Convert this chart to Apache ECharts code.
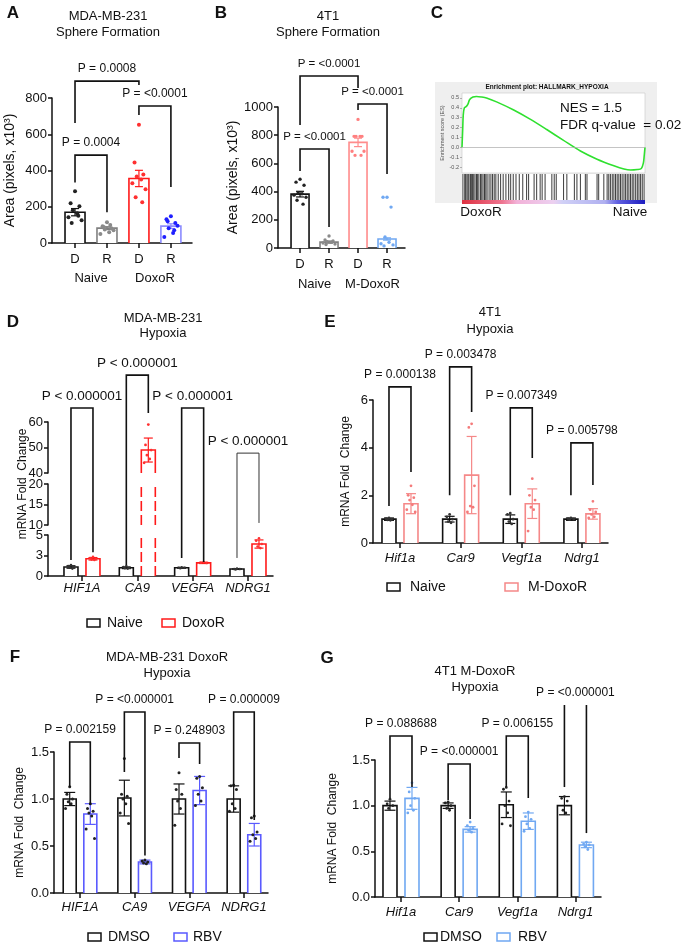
<!DOCTYPE html>
<html>
<head>
<meta charset="utf-8">
<script src="https://cdn.jsdelivr.net/npm/echarts@6/dist/echarts.min.js"></script>
<style>html,body{margin:0;background:#fff}#chart{width:687px;height:944px}</style>
</head>
<body>
<div id="chart"></div>
<script>
var FONT = '"Liberation Sans", Arial, sans-serif';
var INK = '#111';

// ---- A: MDA-MB-231 sphere formation
var aTicks = ['D', 'R', 'D', 'R'];
var aGroups = ['Naive', 'DoxoR'];
var aMeans = [170, 82, 356, 93];
var aSem = [20, 8, 45, 13];
var aDots = [
  [285, 219, 203, 181, 164, 142, 126, 110, 150],
  [115, 93, 82, 75, 60, 49, 70, 88, 100],
  [653, 444, 378, 367, 350, 329, 296, 252, 225],
  [148, 131, 110, 82, 55, 33, 95, 120, 70]
];

// ---- B: 4T1 sphere formation
var bTicks = ['D', 'R', 'D', 'R'];
var bGroups = ['Naive', 'M-DoxoR'];
var bMeans = [382, 42, 749, 64];
var bSem = [20, 8, 30, 8];
var bDots = [
  [488, 467, 445, 389, 385, 375, 360, 339, 311],
  [85, 57, 50, 45, 40, 35, 28, 25],
  [912, 792, 792, 792, 792, 686, 686, 657, 657],
  [360, 360, 290, 78, 40, 30, 22, 15]
];

// ---- C: GSEA enrichment plot (rank in % of list)
var esRank = [0, 0.4, 0.7, 1.3, 2.4, 3.3, 4.2, 6.0, 7.9, 10.6, 13.4, 18.9, 28.0, 37.2, 46.3, 55.5, 64.7, 73.8, 83.0, 88.5, 92.1, 95.8, 98.0, 99.1, 99.6, 100];
var esScore = [0, 0.19, 0.33, 0.40, 0.415, 0.44, 0.485, 0.51, 0.515, 0.51, 0.50, 0.46, 0.38, 0.285, 0.18, 0.07, -0.037, -0.12, -0.187, -0.22, -0.23, -0.225, -0.214, -0.16, -0.08, 0];
var esTicks = [-0.2, -0.1, 0, 0.1, 0.2, 0.3, 0.4, 0.5];
var hitRanks = [0.5, 1.5, 2.0, 2.7, 3.3, 3.8, 4.6, 5.1, 5.7, 6.4, 7.1, 7.9, 8.4, 9.2, 10.1, 10.8, 11.5, 12.3, 13.0, 13.7, 14.8, 15.8, 16.7, 17.6, 18.5, 19.8, 21.1, 22.5, 24.0, 25.5, 26.6, 28.0, 29.5, 31.3, 33.2, 35.3, 36.4, 39.4, 40.8, 42.7, 43.8, 45.4, 49.1, 50.4, 51.5, 55.5, 57.3, 61.4, 62.8, 64.7, 67.4, 68.3, 73.8, 74.7, 77.5, 79.3, 80.2, 81.1, 82.1, 83.0, 83.9, 84.8, 85.7, 86.6, 87.5, 88.5, 89.4, 90.3, 91.2, 92.1, 93.0, 93.9, 94.9, 95.8, 96.7, 97.6, 98.5, 99.5];

// ---- D: MDA-MB-231 hypoxia (broken axis)
var dCats = ['HIF1A', 'CA9', 'VEGFA', 'NDRG1'];
var dNaive = [1.1, 1.0, 1.0, 0.85];
var dNaiveErr = [0.15, 0.1, 0.05, 0.05];
var dNaiveDots = [[1.35, 1.2, 1.1, 1.0, 0.9], [1.2, 1.1, 1.0, 0.95, 0.9], [1.05, 1.0, 1.0, 0.95], [0.9, 0.85, 0.85, 0.8]];
var dDoxo = [2.1, 49, 1.6, 3.9];
var dDoxoErr = [0.15, 4.7, 0.08, 0.5];
var dDoxoDots = [[2.35, 2.2, 2.1, 2.0, 1.95], [59, 51, 49, 47, 45.5, 44], [1.7, 1.62, 1.58], [4.6, 4.3, 3.9, 3.6, 3.4]];

// ---- E: 4T1 hypoxia
var eCats = ['Hif1a', 'Car9', 'Vegf1a', 'Ndrg1'];
var eNaive = [1.0, 1.0, 1.0, 1.0];
var eNaiveErr = [0.05, 0.12, 0.18, 0.05];
var eNaiveDots = [[1.05, 1.02, 1.0, 0.97, 0.95], [1.2, 1.1, 1.0, 0.9, 0.85], [1.25, 1.2, 1.0, 0.9, 0.8], [1.05, 1.02, 1.0, 0.98]];
var eMDoxo = [1.65, 2.85, 1.65, 1.22];
var eMDoxoErr = [0.42, 1.62, 0.62, 0.22];
var eMDoxoDots = [[2.4, 2.0, 1.9, 1.8, 1.6, 1.4, 1.3], [5.0, 4.85, 2.4, 1.55, 1.5, 1.3], [2.7, 2.0, 1.8, 1.5, 1.4, 0.5], [1.75, 1.4, 1.3, 1.2, 1.1, 1.05]];

// ---- F: MDA-MB-231 DoxoR hypoxia
var fCats = ['HIF1A', 'CA9', 'VEGFA', 'NDRG1'];
var fDmso = [1.0, 1.01, 1.0, 1.0];
var fDmsoErr = [0.07, 0.19, 0.16, 0.14];
var fDmsoDots = [[1.13, 1.05, 1.0, 0.97, 0.95, 0.9], [1.43, 1.05, 1.03, 1.0, 0.95, 0.85, 0.74], [1.28, 1.1, 1.05, 0.98, 0.9, 0.72], [1.15, 1.14, 1.1, 0.95, 0.9, 0.87]];
var fRbv = [0.84, 0.33, 1.09, 0.62];
var fRbvErr = [0.11, 0.02, 0.15, 0.12];
var fRbvDots = [[0.95, 0.9, 0.87, 0.85, 0.82, 0.68, 0.58], [0.35, 0.34, 0.33, 0.32, 0.31], [1.24, 1.22, 1.12, 1.05, 0.98, 0.93], [0.82, 0.8, 0.65, 0.62, 0.58, 0.55]];

// ---- G: 4T1 M-DoxoR hypoxia
var gCats = ['Hif1a', 'Car9', 'Vegf1a', 'Ndrg1'];
var gDmso = [1.0, 1.0, 1.01, 1.0];
var gDmsoErr = [0.05, 0.03, 0.14, 0.1];
var gDmsoDots = [[1.07, 1.02, 1.0, 0.97], [1.04, 1.03, 1.0, 0.97, 0.95], [1.2, 1.18, 1.05, 1.0, 0.92, 0.8, 0.78], [1.1, 1.08, 1.05, 0.95, 0.92]];
var gRbv = [1.08, 0.74, 0.83, 0.57];
var gRbvErr = [0.12, 0.03, 0.09, 0.03];
var gRbvDots = [[1.25, 1.15, 1.08, 1.0, 0.95, 0.92], [0.82, 0.78, 0.75, 0.73, 0.71], [0.93, 0.88, 0.85, 0.8, 0.75, 0.72], [0.6, 0.58, 0.57, 0.55, 0.52]];

// significance brackets (values in the axis units of panel p)
var brackets = [
  {p: 0, c: [0, 1], top: 485, l: 334, r: 170, t: 'P = 0.0004', fs: 12},
  {p: 0, c: [0, 2], top: 893, l: 662, r: 872, t: 'P = 0.0008', fs: 12},
  {p: 0, c: [2, 3], top: 756, l: 706, r: 309, t: 'P = <0.0001', fs: 12},
  {p: 1, c: [0, 2], top: 1220, l: 872, r: 1135, t: 'P = <0.0001', fs: 11.5},
  {p: 1, c: [2, 3], top: 1021, l: 979, r: 525, t: 'P = <0.0001', fs: 11.5},
  {p: 1, c: [0, 1], top: 702, l: 546, r: 149, t: 'P = <0.0001', fs: 11.5},
  {p: 6, c: [0, 0], dx: 11, top: [4, 65.5], l: 1.95, r: 2.9, t: 'P < 0.000001', fs: 13.5},
  {p: 6, c: [1, 1], dx: 11, top: [4, 78.4], l: 1.35, r: [4, 63.5], t: 'P < 0.000001', fs: 13.5},
  {p: 6, c: [2, 2], dx: 11, top: [4, 65.5], l: 2.2, r: 1.7, t: 'P < 0.000001', fs: 13.5},
  {p: 6, c: [3, 3], dx: 11, top: [4, 47.8], l: 2.2, r: [5, 10.5], t: 'P < 0.000001', fs: 13.5, thin: true},
  {p: 7, c: [0, 0], dx: 11, top: 6.55, l: 1.55, r: 2.98, t: 'P = 0.000138', fs: 12},
  {p: 7, c: [1, 1], dx: 11, top: 7.39, l: 2.0, r: 5.5, t: 'P = 0.003478', fs: 12},
  {p: 7, c: [2, 2], dx: 11, top: 5.67, l: 2.0, r: 3.57, t: 'P = 0.007349', fs: 12},
  {p: 7, c: [3, 3], dx: 11, top: 4.2, l: 2.0, r: 2.43, t: 'P = 0.005798', fs: 12},
  {p: 8, c: [0, 0], dx: 10.3, top: 1.606, l: 1.128, r: 0.936, t: 'P = 0.002159', fs: 12},
  {p: 8, c: [1, 1], dx: 10.3, top: 1.926, l: 1.287, r: 0.4, t: 'P = <0.000001', fs: 12},
  {p: 8, c: [2, 2], dx: 10.3, top: 1.596, l: 1.436, r: 1.372, t: 'P = 0.248903', fs: 12},
  {p: 8, c: [3, 3], dx: 10.3, top: 1.926, l: 1.128, r: 0.777, t: 'P = 0.000009', fs: 12},
  {p: 9, c: [0, 0], dx: 11, top: 1.763, l: 1.084, r: 1.204, t: 'P = 0.088688', fs: 12},
  {p: 9, c: [1, 1], dx: 11, top: 1.456, l: 1.062, r: 0.854, t: 'P = <0.000001', fs: 12},
  {p: 9, c: [2, 2], dx: 11, top: 1.763, l: 1.204, r: 1.084, t: 'P = 0.006155', fs: 12},
  {p: 9, c: [3, 3], dx: 11, top: 2.102, l: 1.204, r: 0.70, t: 'P = <0.000001', fs: 12, open: true}
];

var RED = '#ff1a1a', PINK = '#f58888', BLUE = '#5a5aff', LBLUE = '#70a8f2';

var chart = echarts.init(document.getElementById('chart'));

// axis pairs: index -> x/y axis index
var P = [{x: 0, y: 0}, {x: 2, y: 1}, {x: 4, y: 2}, {x: 5, y: 3}, {x: 6, y: 4}, {x: 7, y: 5}, {x: 8, y: 6}, {x: 9, y: 7}, {x: 10, y: 8}, {x: 11, y: 9}];

function xAx(grid, min, max, labels, o) {
  o = o || {};
  return {
    type: 'value', gridIndex: grid, min: min, max: max, show: o.show !== false,
    position: 'bottom', offset: o.offset || 0,
    axisLine: {show: !o.noLine, onZero: false, lineStyle: {color: INK, width: 1.5}},
    axisTick: {show: !o.noLine, length: 5, customValues: o.at || [0, 1, 2, 3], lineStyle: {color: INK, width: 1.5}},
    axisLabel: {customValues: o.at || [0, 1, 2, 3], formatter: function (v) { return labels[Math.floor(v / (o.step || 1) + 1e-6)]; },
      color: INK, fontSize: 13, fontFamily: FONT, fontStyle: o.italic ? 'italic' : 'normal', margin: o.margin || 9},
    splitLine: {show: false}
  };
}

function yAx(grid, min, max, interval, o) {
  o = o || {};
  return {
    type: 'value', gridIndex: grid, min: min, max: max, interval: interval, show: o.show !== false,
    name: o.name || '', nameLocation: 'middle', nameGap: o.gap || 30,
    nameTextStyle: {color: INK, fontSize: o.nameSize || 12, fontFamily: FONT},
    axisLine: {show: true, onZero: false, lineStyle: {color: INK, width: 1.5}},
    axisTick: {show: true, length: 4, customValues: o.ticks, lineStyle: {color: INK, width: 1.5}},
    axisLabel: {color: INK, fontSize: 13, fontFamily: FONT, margin: 5, customValues: o.ticks,
      formatter: o.fmt || function (v) { return String(v); }},
    splitLine: {show: false}
  };
}

function jit(k) { return [0, -4, 4, -2, 2, -6, 6, -3, 3][k % 9]; }

function bars(p, vals, off, w, color, lo, hi) {
  return {
    type: 'custom', xAxisIndex: P[p].x, yAxisIndex: P[p].y, silent: true,
    data: vals.map(function (v, i) { return [i, v]; }),
    renderItem: function (params, api) {
      var i = api.value(0), v = api.value(1);
      if (!(v > lo)) return null;
      var over = v > hi;
      var b = api.coord([i, lo]), t = api.coord([i, Math.min(v, hi)]);
      var c = b[0] + off, l = c - w / 2, r = c + w / 2;
      var col = Array.isArray(color) ? color[params.dataIndex] : color;
      var kids = [{type: 'rect', shape: {x: l, y: t[1], width: w, height: b[1] - t[1]}, style: {fill: '#fff'}}];
      if (over) {
        kids.push({type: 'line', shape: {x1: l, y1: b[1], x2: l, y2: t[1]}, style: {stroke: col, lineWidth: 1.6, lineDash: [10, 4]}});
        kids.push({type: 'line', shape: {x1: r, y1: b[1], x2: r, y2: t[1]}, style: {stroke: col, lineWidth: 1.6, lineDash: [10, 4]}});
      } else {
        kids.push({type: 'polyline', shape: {points: [[l, b[1]], [l, t[1]], [r, t[1]], [r, b[1]]]}, style: {stroke: col, lineWidth: 1.6, fill: null}});
      }
      return {type: 'group', children: kids};
    }
  };
}

function errs(p, vals, sd, off, cap, color, lo, hi) {
  return {
    type: 'custom', xAxisIndex: P[p].x, yAxisIndex: P[p].y, silent: true,
    data: vals.map(function (v, i) { return [i, v, sd[i]]; }),
    renderItem: function (params, api) {
      var i = api.value(0), v = api.value(1), e = api.value(2);
      if (v < lo || v > hi) return null;
      var a = api.coord([i, v + e]), b = api.coord([i, Math.max(v - e, lo)]);
      var x = a[0] + off;
      var col = Array.isArray(color) ? color[params.dataIndex] : color;
      var st = {stroke: col, lineWidth: 1.2};
      return {type: 'group', children: [
        {type: 'line', shape: {x1: x, y1: a[1], x2: x, y2: b[1]}, style: st},
        {type: 'line', shape: {x1: x - cap / 2, y1: a[1], x2: x + cap / 2, y2: a[1]}, style: st},
        {type: 'line', shape: {x1: x - cap / 2, y1: b[1], x2: x + cap / 2, y2: b[1]}, style: st}
      ]};
    }
  };
}

function dots(p, arr, off, color, rad, s, lo, hi) {
  var data = [];
  arr.forEach(function (g, i) { g.forEach(function (v, k) { data.push([i, v, k]); }); });
  return {
    type: 'custom', xAxisIndex: P[p].x, yAxisIndex: P[p].y, silent: true,
    data: data,
    renderItem: function (params, api) {
      var i = api.value(0), v = api.value(1), k = api.value(2);
      if (v < lo || v > hi) return null;
      var c = api.coord([i, v]);
      var col = Array.isArray(color) ? color[i] : color;
      return {type: 'circle', shape: {cx: c[0] + off + jit(k) * s, cy: c[1], r: rad}, style: {fill: col}};
    }
  };
}

var aBar = [INK, '#808080', RED, '#8c8cff'];
var aDot = ['#222', '#8a8a8a', '#ff3030', '#1f1fff'];
var bBar = [INK, '#808080', '#ff8c8c', LBLUE];
var bDot = ['#222', '#8a8a8a', '#ff7f7f', LBLUE];

var fmt1 = function (v) { return v.toFixed(1); };

var option = {
  animation: false,
  textStyle: {fontFamily: FONT},
  grid: [
    {left: 52, top: 98, width: 140, height: 145},
    {left: 278, top: 107, width: 127, height: 141},
    {left: 462, top: 93, width: 183, height: 80},
    {left: 462, top: 174, width: 183, height: 26},
    {left: 48, top: 422, width: 225, height: 51},
    {left: 48, top: 484, width: 225, height: 41},
    {left: 48, top: 535, width: 225, height: 41},
    {left: 373, top: 400, width: 235, height: 143},
    {left: 54, top: 752, width: 214, height: 141},
    {left: 375, top: 760, width: 226, height: 137}
  ],
  xAxis: [
    xAx(0, -0.72, 3.66, aTicks, {margin: 10}),
    xAx(0, -0.72, 3.66, aGroups, {at: [0.5, 2.5], step: 2, offset: 19, noLine: true, margin: 10}),
    xAx(1, -0.76, 3.62, bTicks, {margin: 10}),
    xAx(1, -0.76, 3.62, bGroups, {at: [0.5, 2.5], step: 2, offset: 20, noLine: true, margin: 10}),
    {type: 'value', gridIndex: 2, min: 0, max: 100, show: false},
    {type: 'value', gridIndex: 3, min: 0, max: 100, show: false},
    xAx(4, -0.614, 3.452, dCats, {show: false}),
    xAx(5, -0.614, 3.452, dCats, {show: false}),
    xAx(6, -0.614, 3.452, dCats, {italic: true, margin: 6}),
    xAx(7, -0.445, 3.43, eCats, {italic: true, margin: 9}),
    xAx(8, -0.476, 3.44, fCats, {italic: true, margin: 8}),
    xAx(9, -0.447, 3.44, gCats, {italic: true, margin: 9})
  ],
  yAxis: [
    yAx(0, 0, 800, 200, {name: 'Area (pixels, x10³)', gap: 35, nameSize: 14}),
    yAx(1, 0, 1000, 200, {name: 'Area (pixels, x10³)', gap: 36, nameSize: 14}),
    {type: 'value', gridIndex: 2, min: -0.26, max: 0.55, name: 'Enrichment score (ES)', nameLocation: 'middle', nameGap: 14,
      nameTextStyle: {fontSize: 5.5, color: '#555'},
      axisLine: {show: false},
      axisTick: {show: true, length: 2, customValues: esTicks, lineStyle: {color: '#888', width: 0.6}},
      axisLabel: {customValues: esTicks, formatter: fmt1, fontSize: 5.5, color: '#555', margin: 3},
      splitLine: {show: false}},
    {type: 'value', gridIndex: 3, min: 0, max: 1, show: false},
    yAx(4, 40, 60, 10),
    yAx(5, 10, 20, 5),
    yAx(6, 0, 5, null, {ticks: [0, 2.5, 5], fmt: function (v) { return String(Math.round(v)); }}),
    yAx(7, 0, 6, 2, {name: 'mRNA Fold  Change', gap: 21}),
    yAx(8, 0, 1.5, 0.5, {name: 'mRNA Fold  Change', gap: 28, fmt: fmt1}),
    yAx(9, 0, 1.5, 0.5, {name: 'mRNA Fold  Change', gap: 36, fmt: fmt1})
  ],
  series: [
    // A
    bars(0, aMeans, 0, 20, aBar, 0, 800),
    errs(0, aMeans, aSem, 0, 8, aBar, 0, 800),
    dots(0, aDots, 0, aDot, 2, 1.1, 0, 800),
    // B
    bars(1, bMeans, 0, 18, bBar, 0, 1000),
    errs(1, bMeans, bSem, 0, 8, bBar, 0, 1000),
    dots(1, bDots, 0, bDot, 1.7, 1.0, 0, 1000),
    // C
    {type: 'line', xAxisIndex: 4, yAxisIndex: 2, silent: true, showSymbol: false, smooth: 0.3,
      data: esRank.map(function (x, i) { return [x, esScore[i]]; }),
      lineStyle: {color: '#2fe02f', width: 1.6},
      markLine: {silent: true, symbol: 'none', label: {show: false}, lineStyle: {color: '#aaa', width: 0.7, type: 'solid'}, data: [{yAxis: 0}]}},
    {type: 'custom', xAxisIndex: 5, yAxisIndex: 3, silent: true,
      data: hitRanks.map(function (r) { return [r, 1]; }),
      renderItem: function (params, api) {
        var a = api.coord([api.value(0), 0]), b = api.coord([api.value(0), 1]);
        return {type: 'line', shape: {x1: a[0], y1: a[1], x2: a[0], y2: b[1]}, style: {stroke: '#1a1a1a', lineWidth: 1, opacity: 0.85}};
      }},
    // D top / mid / bottom
    bars(4, dNaive, -11, 14, INK, 40, 60), bars(4, dDoxo, 11, 14, RED, 40, 60),
    errs(4, dDoxo, dDoxoErr, 11, 9, RED, 40, 60),
    dots(4, dDoxoDots, 11, '#ff3030', 1.4, 0.7, 40, 60),
    bars(5, dNaive, -11, 14, INK, 10, 20), bars(5, dDoxo, 11, 14, RED, 10, 20),
    bars(6, dNaive, -11, 14, INK, 0, 5), bars(6, dDoxo, 11, 14, RED, 0, 5),
    errs(6, dNaive, dNaiveErr, -11, 9, INK, 0, 5), errs(6, dDoxo, dDoxoErr, 11, 9, RED, 0, 5),
    dots(6, dNaiveDots, -11, '#333', 1.3, 0.7, 0, 5), dots(6, dDoxoDots, 11, '#ff3030', 1.3, 0.7, 0, 5),
    // E
    bars(7, eNaive, -11, 14, INK, 0, 6), bars(7, eMDoxo, 11, 14, PINK, 0, 6),
    errs(7, eNaive, eNaiveErr, -11, 10, INK, 0, 6), errs(7, eMDoxo, eMDoxoErr, 11, 10, PINK, 0, 6),
    dots(7, eNaiveDots, -11, '#333', 1.4, 0.7, 0, 6), dots(7, eMDoxoDots, 11, '#f47a7a', 1.4, 0.7, 0, 6),
    // F
    bars(8, fDmso, -10.3, 13, INK, 0, 1.5), bars(8, fRbv, 10.3, 13, BLUE, 0, 1.5),
    errs(8, fDmso, fDmsoErr, -10.3, 11, INK, 0, 1.5), errs(8, fRbv, fRbvErr, 10.3, 11, BLUE, 0, 1.5),
    dots(8, fDmsoDots, -10.3, '#222', 1.5, 0.7, 0, 1.5), dots(8, fRbvDots, 10.3, '#222', 1.5, 0.7, 0, 1.5),
    // G
    bars(9, gDmso, -11, 14, INK, 0, 1.5), bars(9, gRbv, 11, 14, LBLUE, 0, 1.5),
    errs(9, gDmso, gDmsoErr, -11, 11, INK, 0, 1.5), errs(9, gRbv, gRbvErr, 11, 11, LBLUE, 0, 1.5),
    dots(9, gDmsoDots, -11, '#222', 1.4, 0.7, 0, 1.5), dots(9, gRbvDots, 11, LBLUE, 1.4, 0.7, 0, 1.5)
  ]
};

chart.setOption(option);

// ---- annotations: texts, legends, brackets (positions of brackets from the axes)
var g = [];
function txt(s, x, y, o) {
  o = o || {};
  g.push({type: 'text', x: x, y: y, z: 100, rotation: o.rot || 0, silent: true,
    style: {text: s, fill: o.color || INK, textAlign: o.align || 'center', textVerticalAlign: 'middle',
      font: (o.bold ? 'bold ' : '') + (o.size || 13) + 'px ' + FONT}});
}

// C frame
g.push({type: 'rect', z: 0, shape: {x: 435, y: 82, width: 222, height: 121}, style: {fill: '#efefef'}});
g.push({type: 'rect', z: 0, shape: {x: 462, y: 93, width: 183, height: 80}, style: {fill: '#fff', stroke: '#c8c8c8', lineWidth: 0.6}});
g.push({type: 'rect', z: 0, shape: {x: 462, y: 174, width: 183, height: 26}, style: {fill: '#fff'}});
g.push({type: 'rect', z: 100, shape: {x: 462, y: 200, width: 183, height: 4}, style: {fill: new echarts.graphic.LinearGradient(0, 0, 1, 0, [
  {offset: 0, color: '#dd3040'}, {offset: 0.22, color: '#ee7590'}, {offset: 0.3, color: '#f2b2d8'},
  {offset: 0.5, color: '#ecd0f0'}, {offset: 0.55, color: '#d0d0f6'}, {offset: 0.78, color: '#b0b0f0'},
  {offset: 0.85, color: '#6060e0'}, {offset: 1, color: '#1c1cc0'}])}});
txt('Enrichment plot: HALLMARK_HYPOXIA', 547, 87, {size: 6.5, bold: true});
txt('NES = 1.5', 560, 108, {align: 'left', size: 13.5});
txt('FDR q-value  = 0.02', 560, 125, {align: 'left', size: 13.5});
txt('DoxoR', 481, 212, {size: 13.5});
txt('Naive', 630, 212, {size: 13.5});

// panel letters
[['A', 13, 13], ['B', 221, 13], ['C', 437, 13], ['D', 13, 322], ['E', 330, 322], ['F', 15, 657], ['G', 327, 658]]
  .forEach(function (a) { txt(a[0], a[1], a[2], {bold: true, size: 17}); });

// titles
[['MDA-MB-231', 108, 16], ['Sphere Formation', 108, 32], ['4T1', 328, 16], ['Sphere Formation', 328, 32],
 ['MDA-MB-231', 163, 318], ['Hypoxia', 163, 333], ['4T1', 490, 312], ['Hypoxia', 490, 329],
 ['MDA-MB-231 DoxoR', 167, 657], ['Hypoxia', 167, 673], ['4T1 M-DoxoR', 475, 671], ['Hypoxia', 475, 687]]
  .forEach(function (a) { txt(a[0], a[1], a[2], {size: 13}); });

// D y-axis name (spans the broken axis)
txt('mRNA Fold  Change', 23, 484, {size: 12, rot: Math.PI / 2});

// legends
[[87, 107, 623, INK, 'Naive'], [162, 182, 623, RED, 'DoxoR'],
 [387, 410, 587, INK, 'Naive'], [505, 528, 587, PINK, 'M-DoxoR'],
 [88, 108, 937, INK, 'DMSO'], [174, 193, 937, BLUE, 'RBV'],
 [424, 440, 937, INK, 'DMSO'], [497, 518, 937, LBLUE, 'RBV']]
  .forEach(function (a) {
    g.push({type: 'rect', z: 100, shape: {x: a[0], y: a[2] - 4, width: 13, height: 8}, style: {fill: '#fff', stroke: a[3], lineWidth: 1.5}});
    txt(a[4], a[1], a[2], {align: 'left', size: 14});
  });

function px(p, x, v) { return chart.convertToPixel({xAxisIndex: P[p].x, yAxisIndex: P[p].y}, [x, v]); }
brackets.forEach(function (b) {
  var yv = function (s) { return Array.isArray(s) ? px(s[0], 0, s[1])[1] : px(b.p, 0, s)[1]; };
  var dx = b.dx || 0;
  var x1 = px(b.p, b.c[0], 0)[0] - dx, x2 = px(b.p, b.c[1], 0)[0] + dx;
  var yt = yv(b.top), yl = yv(b.l), yr = yv(b.r);
  var st = {stroke: b.thin ? '#333' : INK, lineWidth: b.thin ? 1 : 1.6, fill: null};
  if (b.open) {
    g.push({type: 'line', z: 100, shape: {x1: x1, y1: yt, x2: x1, y2: yl}, style: st});
    g.push({type: 'line', z: 100, shape: {x1: x2, y1: yt, x2: x2, y2: yr}, style: st});
  } else {
    g.push({type: 'polyline', z: 100, shape: {points: [[x1, yl], [x1, yt], [x2, yt], [x2, yr]]}, style: st});
  }
  txt(b.t, (x1 + x2) / 2, yt - 12, {size: b.fs});
});

chart.setOption({graphic: g});
</script>
</body>
</html>
